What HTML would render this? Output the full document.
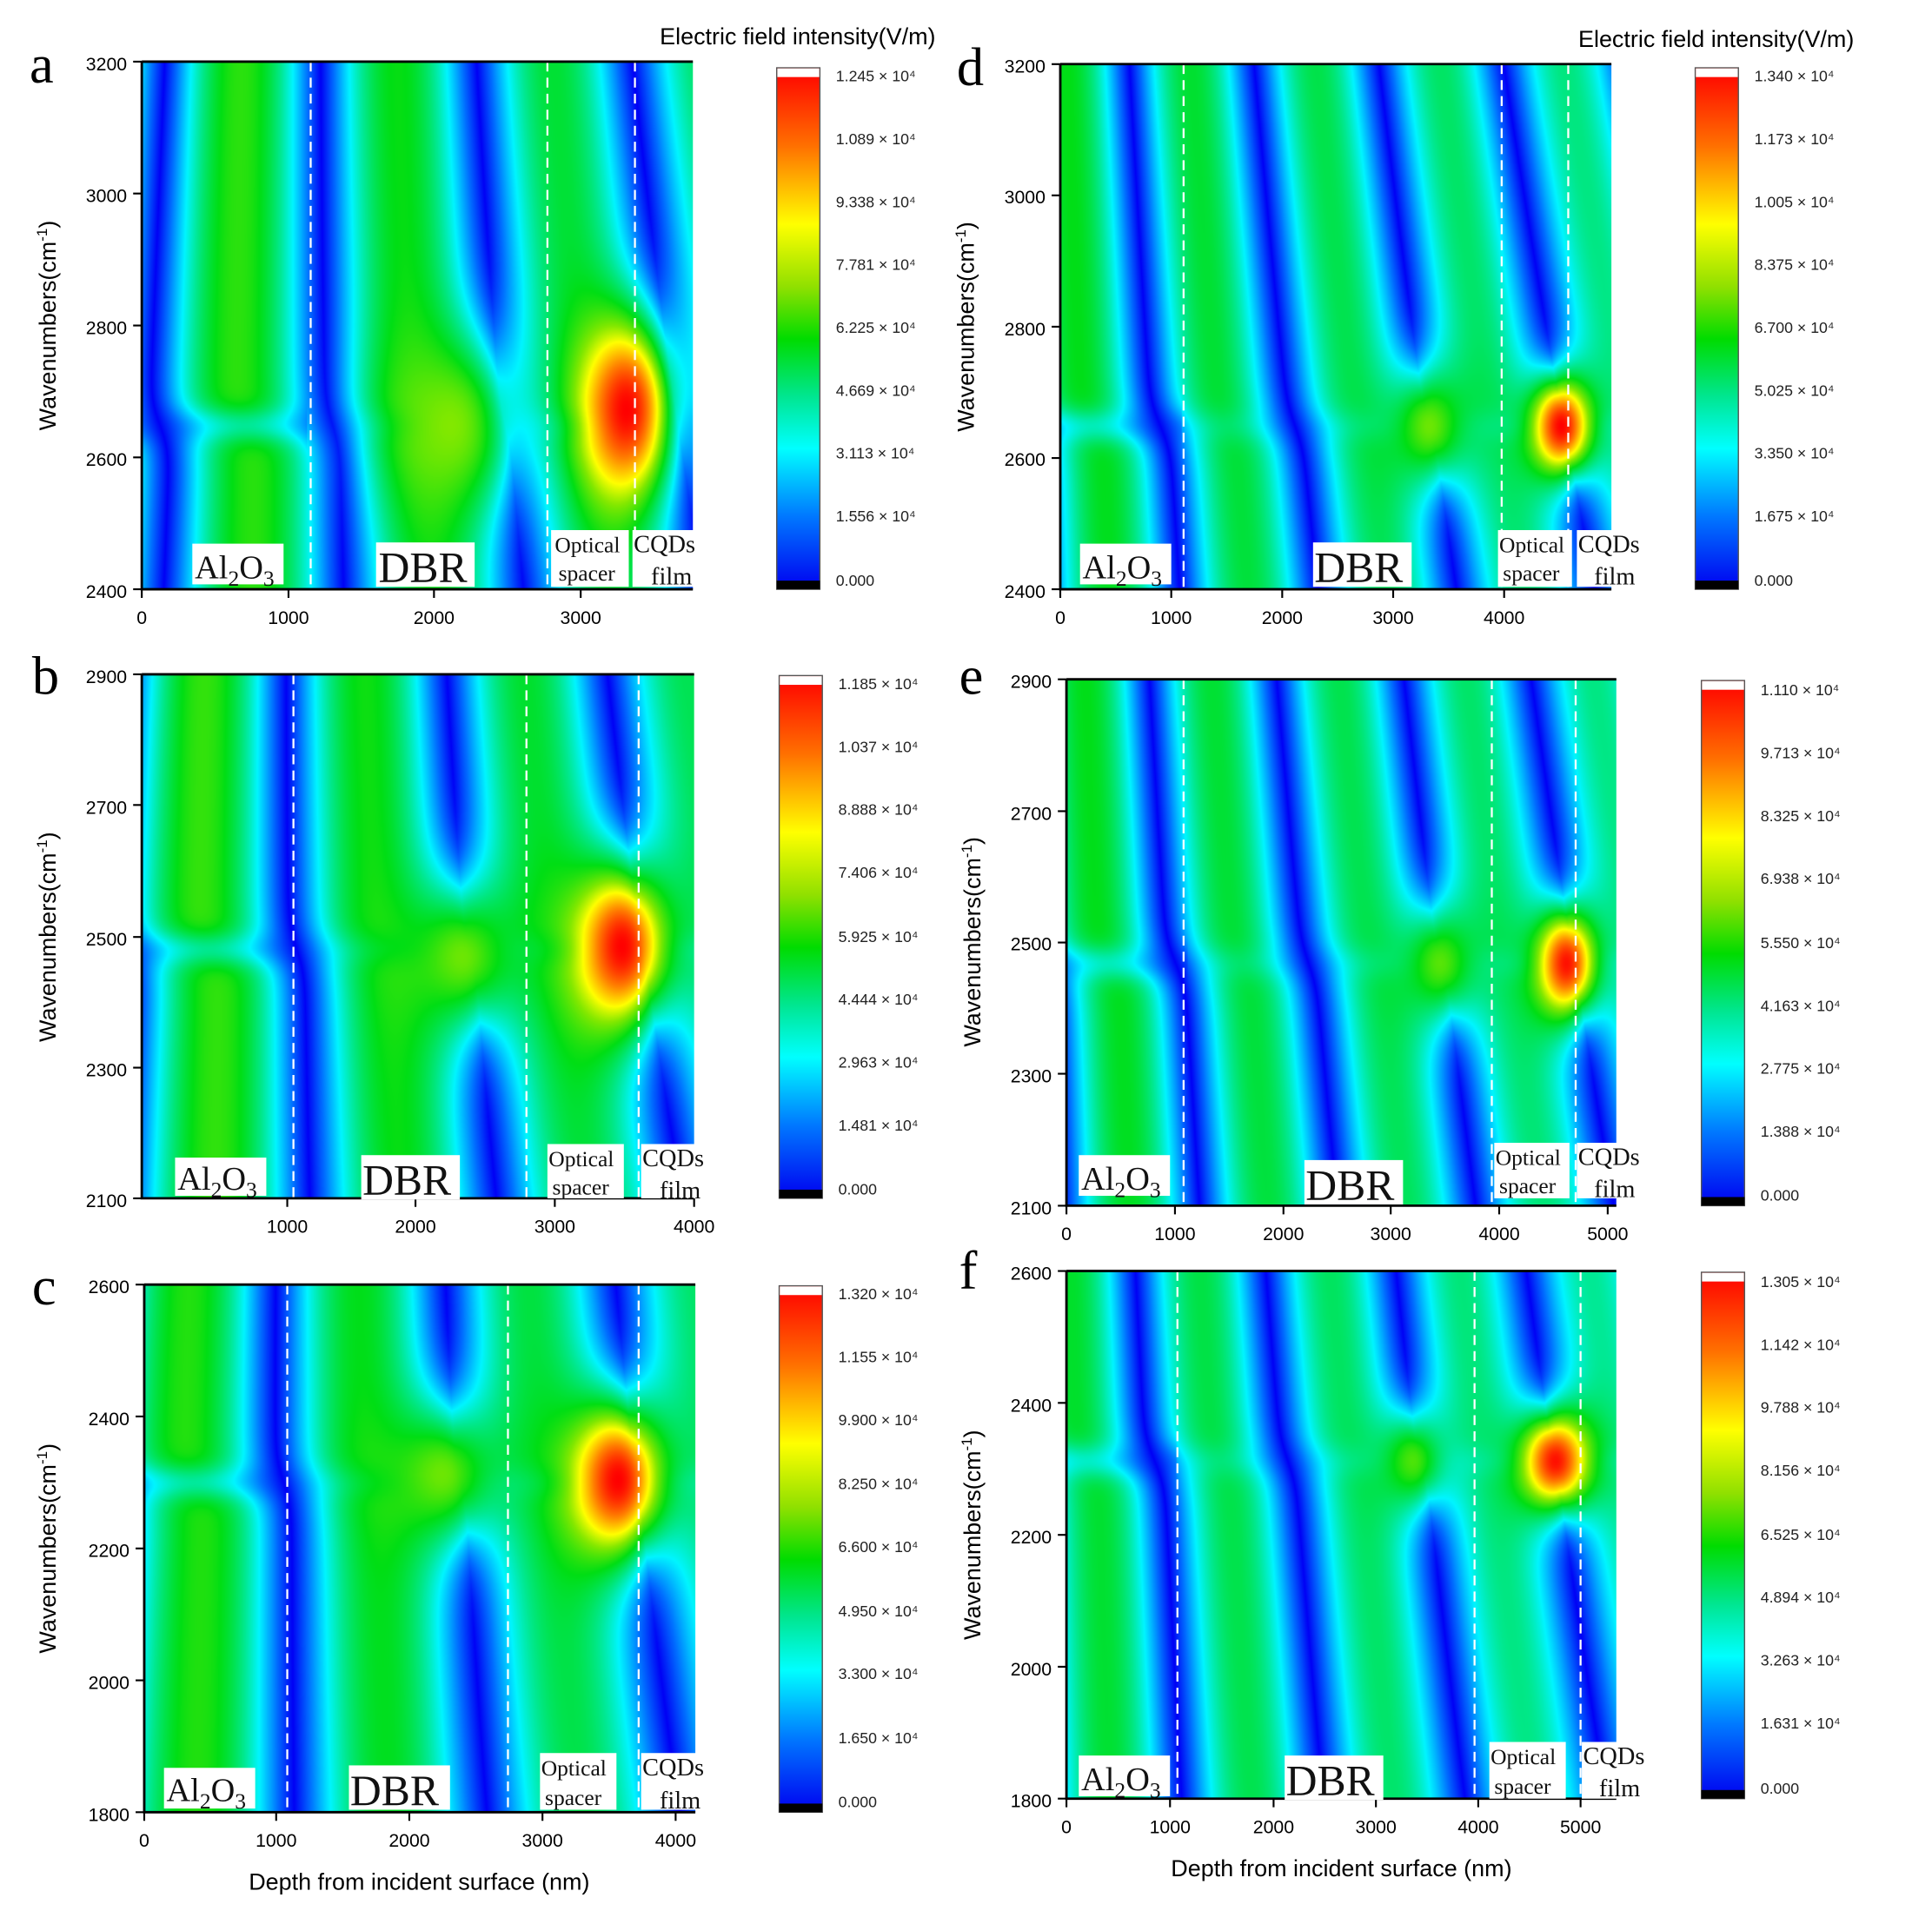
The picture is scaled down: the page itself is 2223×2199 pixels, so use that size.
<!DOCTYPE html>
<html><head><meta charset="utf-8"><style>
html,body{margin:0;padding:0;background:#fff;width:2223px;height:2199px;overflow:hidden}
#w{position:absolute;left:0;top:0;width:1567px;height:1550px;transform:scale(1.4186);transform-origin:0 0}
canvas{position:absolute}
svg{position:absolute;left:0;top:0}
.t{font-family:"Liberation Sans",sans-serif;font-size:15px;fill:#000}
.cb{font-family:"Liberation Sans",sans-serif;font-size:12.5px;fill:#222}
.yl{font-family:"Liberation Sans",sans-serif;font-size:19px;fill:#000}
.lt{font-family:"Liberation Serif",serif;font-size:44px;fill:#000}
.rg{font-family:"Liberation Serif",serif;fill:#111}
</style></head><body><div id="w">
<canvas id="ca" style="left:115px;top:50px;width:447px;height:428px" width="640" height="616"></canvas>
<canvas id="cd" style="left:860px;top:52px;width:447px;height:426px" width="640" height="614"></canvas>
<canvas id="cb" style="left:115px;top:547px;width:448px;height:425px" width="640" height="612"></canvas>
<canvas id="ce" style="left:865px;top:551px;width:446px;height:427px" width="640" height="614"></canvas>
<canvas id="cc" style="left:117px;top:1042px;width:447px;height:428px" width="640" height="616"></canvas>
<canvas id="cf" style="left:865px;top:1031px;width:446px;height:428px" width="640" height="616"></canvas>
<svg width="1567" height="1550" viewBox="0 0 1567 1550">
<defs><linearGradient id="g" x1="0" y1="0" x2="0" y2="1">
<stop offset="0" stop-color="#ff0000"/><stop offset="0.15" stop-color="#ff7000"/><stop offset="0.3" stop-color="#ffff00"/><stop offset="0.42" stop-color="#90e000"/><stop offset="0.52" stop-color="#00dc00"/><stop offset="0.63" stop-color="#00e690"/><stop offset="0.73" stop-color="#00ffff"/><stop offset="0.86" stop-color="#0078ff"/><stop offset="1" stop-color="#0000f0"/></linearGradient></defs>
<g stroke="#fff" stroke-width="1.6" stroke-dasharray="8,5">
<line x1="252" y1="50" x2="252" y2="478"/><line x1="444" y1="50" x2="444" y2="478"/><line x1="515" y1="50" x2="515" y2="478"/>
<line x1="960" y1="52" x2="960" y2="478"/><line x1="1218" y1="52" x2="1218" y2="478"/><line x1="1272" y1="52" x2="1272" y2="478"/>
<line x1="238" y1="547" x2="238" y2="972"/><line x1="427" y1="547" x2="427" y2="972"/><line x1="518" y1="547" x2="518" y2="972"/>
<line x1="960" y1="551" x2="960" y2="978"/><line x1="1210" y1="551" x2="1210" y2="978"/><line x1="1278" y1="551" x2="1278" y2="978"/>
<line x1="233" y1="1042" x2="233" y2="1470"/><line x1="412" y1="1042" x2="412" y2="1470"/><line x1="518" y1="1042" x2="518" y2="1470"/>
<line x1="955" y1="1031" x2="955" y2="1459"/><line x1="1196" y1="1031" x2="1196" y2="1459"/><line x1="1282" y1="1031" x2="1282" y2="1459"/>
</g>
<g fill="none" stroke="#000" stroke-width="2">
<path d="M115 50H562M115 50V478H562"/><path d="M860 52H1307M860 52V478H1307"/>
<path d="M115 547H563M115 547V972H563"/><path d="M865 551H1311M865 551V978H1311"/>
<path d="M117 1042H564M117 1042V1470H564"/><path d="M865 1031H1311M865 1031V1459H1311"/>
</g>
<g stroke="#000" stroke-width="1.5">
<path d="M108 50h7M108 157h7M108 264h7M108 371h7M108 478h7M115 478v7M234 478v7M352 478v7M471 478v7"/>
<path d="M853 52h7M853 158.5h7M853 265h7M853 371.5h7M853 478h7M860 478v7M950 478v7M1040 478v7M1130 478v7M1220 478v7"/>
<path d="M108 547h7M108 653h7M108 760h7M108 866h7M108 972h7M233 972v7M337 972v7M450 972v7M563 972v7"/>
<path d="M858 551h7M858 658h7M858 764.5h7M858 871h7M858 978h7M865 978v7M953 978v7M1041 978v7M1128 978v7M1216 978v7M1304 978v7"/>
<path d="M110 1042h7M110 1149h7M110 1256h7M110 1363h7M110 1470h7M117 1470v7M224 1470v7M332 1470v7M440 1470v7M548 1470v7"/>
<path d="M858 1031h7M858 1138h7M858 1245h7M858 1352h7M858 1459h7M865 1459v7M949 1459v7M1033 1459v7M1116 1459v7M1199 1459v7M1282 1459v7"/>
</g>
<g class="t" text-anchor="end">
<text x="103" y="57">3200</text><text x="103" y="164">3000</text><text x="103" y="271">2800</text><text x="103" y="378">2600</text><text x="103" y="485">2400</text>
<text x="848" y="59">3200</text><text x="848" y="165">3000</text><text x="848" y="272">2800</text><text x="848" y="378">2600</text><text x="848" y="485">2400</text>
<text x="103" y="554">2900</text><text x="103" y="660">2700</text><text x="103" y="767">2500</text><text x="103" y="873">2300</text><text x="103" y="979">2100</text>
<text x="853" y="558">2900</text><text x="853" y="665">2700</text><text x="853" y="771">2500</text><text x="853" y="878">2300</text><text x="853" y="985">2100</text>
<text x="105" y="1049">2600</text><text x="105" y="1156">2400</text><text x="105" y="1263">2200</text><text x="105" y="1370">2000</text><text x="105" y="1477">1800</text>
<text x="853" y="1038">2600</text><text x="853" y="1145">2400</text><text x="853" y="1252">2200</text><text x="853" y="1359">2000</text><text x="853" y="1466">1800</text>
</g>
<g class="t" text-anchor="middle">
<text x="115" y="506">0</text><text x="234" y="506">1000</text><text x="352" y="506">2000</text><text x="471" y="506">3000</text>
<text x="860" y="506">0</text><text x="950" y="506">1000</text><text x="1040" y="506">2000</text><text x="1130" y="506">3000</text><text x="1220" y="506">4000</text>
<text x="233" y="1000">1000</text><text x="337" y="1000">2000</text><text x="450" y="1000">3000</text><text x="563" y="1000">4000</text>
<text x="865" y="1006">0</text><text x="953" y="1006">1000</text><text x="1041" y="1006">2000</text><text x="1128" y="1006">3000</text><text x="1216" y="1006">4000</text><text x="1304" y="1006">5000</text>
<text x="117" y="1498">0</text><text x="224" y="1498">1000</text><text x="332" y="1498">2000</text><text x="440" y="1498">3000</text><text x="548" y="1498">4000</text>
<text x="865" y="1487">0</text><text x="949" y="1487">1000</text><text x="1033" y="1487">2000</text><text x="1116" y="1487">3000</text><text x="1199" y="1487">4000</text><text x="1282" y="1487">5000</text>
</g>
<g class="yl" text-anchor="middle">
<text transform="translate(45,264) rotate(-90)">Wavenumbers(cm<tspan font-size="12" dy="-7">-1</tspan><tspan dy="7">)</tspan></text>
<text transform="translate(790,265) rotate(-90)">Wavenumbers(cm<tspan font-size="12" dy="-7">-1</tspan><tspan dy="7">)</tspan></text>
<text transform="translate(45,760) rotate(-90)">Wavenumbers(cm<tspan font-size="12" dy="-7">-1</tspan><tspan dy="7">)</tspan></text>
<text transform="translate(795,764) rotate(-90)">Wavenumbers(cm<tspan font-size="12" dy="-7">-1</tspan><tspan dy="7">)</tspan></text>
<text transform="translate(45,1256) rotate(-90)">Wavenumbers(cm<tspan font-size="12" dy="-7">-1</tspan><tspan dy="7">)</tspan></text>
<text transform="translate(795,1245) rotate(-90)">Wavenumbers(cm<tspan font-size="12" dy="-7">-1</tspan><tspan dy="7">)</tspan></text>
<text x="340" y="1533">Depth from incident surface (nm)</text>
<text x="1088" y="1522">Depth from incident surface (nm)</text>
<text x="647" y="36">Electric field intensity(V/m)</text>
<text x="1392" y="38">Electric field intensity(V/m)</text>
</g>
<g class="lt"><text x="24" y="67">a</text><text x="776" y="69">d</text><text x="26" y="563">b</text><text x="778" y="563">e</text><text x="26" y="1058">c</text><text x="778" y="1045">f</text></g>
<g stroke="#555" stroke-width="1">
<rect x="630" y="55" width="35" height="423" fill="url(#g)"/><rect x="1375" y="55" width="35" height="423" fill="url(#g)"/>
<rect x="632" y="548" width="35" height="424" fill="url(#g)"/><rect x="1380" y="552" width="35" height="426" fill="url(#g)"/>
<rect x="632" y="1043" width="35" height="427" fill="url(#g)"/><rect x="1380" y="1032" width="35" height="427" fill="url(#g)"/>
</g>
<g fill="#fff"><rect x="630.5" y="55.5" width="34" height="7"/><rect x="1375.5" y="55.5" width="34" height="7"/><rect x="632.5" y="548.5" width="34" height="7"/><rect x="1380.5" y="552.5" width="34" height="7"/><rect x="632.5" y="1043.5" width="34" height="7"/><rect x="1380.5" y="1032.5" width="34" height="7"/></g>
<g fill="#000"><rect x="630" y="471" width="35" height="7"/><rect x="1375" y="471" width="35" height="7"/><rect x="632" y="965" width="35" height="7"/><rect x="1380" y="971" width="35" height="7"/><rect x="632" y="1463" width="35" height="7"/><rect x="1380" y="1452" width="35" height="7"/></g>
<g class="cb">
<text x="678" y="66">1.245 × 10⁴</text><text x="678" y="117">1.089 × 10⁴</text><text x="678" y="168">9.338 × 10⁴</text><text x="678" y="219">7.781 × 10⁴</text><text x="678" y="270">6.225 × 10⁴</text><text x="678" y="321">4.669 × 10⁴</text><text x="678" y="372">3.113 × 10⁴</text><text x="678" y="423">1.556 × 10⁴</text><text x="678" y="475">0.000</text>
<text x="1423" y="66">1.340 × 10⁴</text><text x="1423" y="117">1.173 × 10⁴</text><text x="1423" y="168">1.005 × 10⁴</text><text x="1423" y="219">8.375 × 10⁴</text><text x="1423" y="270">6.700 × 10⁴</text><text x="1423" y="321">5.025 × 10⁴</text><text x="1423" y="372">3.350 × 10⁴</text><text x="1423" y="423">1.675 × 10⁴</text><text x="1423" y="475">0.000</text>
<text x="680" y="559">1.185 × 10⁴</text><text x="680" y="610">1.037 × 10⁴</text><text x="680" y="661">8.888 × 10⁴</text><text x="680" y="712">7.406 × 10⁴</text><text x="680" y="764">5.925 × 10⁴</text><text x="680" y="815">4.444 × 10⁴</text><text x="680" y="866">2.963 × 10⁴</text><text x="680" y="917">1.481 × 10⁴</text><text x="680" y="969">0.000</text>
<text x="1428" y="564">1.110 × 10⁴</text><text x="1428" y="615">9.713 × 10⁴</text><text x="1428" y="666">8.325 × 10⁴</text><text x="1428" y="717">6.938 × 10⁴</text><text x="1428" y="769">5.550 × 10⁴</text><text x="1428" y="820">4.163 × 10⁴</text><text x="1428" y="871">2.775 × 10⁴</text><text x="1428" y="922">1.388 × 10⁴</text><text x="1428" y="974">0.000</text>
<text x="680" y="1054">1.320   × 10⁴</text><text x="680" y="1105">1.155   × 10⁴</text><text x="680" y="1156">9.900   × 10⁴</text><text x="680" y="1208">8.250   × 10⁴</text><text x="680" y="1259">6.600   × 10⁴</text><text x="680" y="1311">4.950   × 10⁴</text><text x="680" y="1362">3.300   × 10⁴</text><text x="680" y="1414">1.650   × 10⁴</text><text x="680" y="1466">0.000</text>
<text x="1428" y="1044">1.305 × 10⁴</text><text x="1428" y="1095">1.142 × 10⁴</text><text x="1428" y="1146">9.788 × 10⁴</text><text x="1428" y="1197">8.156 × 10⁴</text><text x="1428" y="1249">6.525 × 10⁴</text><text x="1428" y="1300">4.894 × 10⁴</text><text x="1428" y="1351">3.263 × 10⁴</text><text x="1428" y="1402">1.631 × 10⁴</text><text x="1428" y="1455">0.000</text>
</g>
<g fill="#fff">
<rect x="156" y="441" width="74" height="33"/><rect x="305" y="440" width="80" height="36"/><rect x="447" y="430" width="63" height="46"/><rect x="513" y="430" width="55" height="46"/>
<rect x="876" y="441" width="74" height="33"/><rect x="1065" y="440" width="80" height="36"/><rect x="1215" y="430" width="60" height="46"/><rect x="1279" y="430" width="56" height="46"/>
<rect x="142" y="939" width="74" height="31"/><rect x="293" y="937" width="80" height="36"/><rect x="444" y="928" width="62" height="44"/><rect x="520" y="928" width="58" height="44"/>
<rect x="875" y="937" width="74" height="33"/><rect x="1058" y="941" width="80" height="36"/><rect x="1212" y="927" width="61" height="45"/><rect x="1279" y="927" width="56" height="45"/>
<rect x="133" y="1434" width="74" height="33"/><rect x="283" y="1432" width="82" height="36"/><rect x="438" y="1422" width="62" height="46"/><rect x="520" y="1422" width="60" height="46"/>
<rect x="875" y="1424" width="74" height="33"/><rect x="1042" y="1424" width="80" height="36"/><rect x="1208" y="1413" width="62" height="46"/><rect x="1283" y="1413" width="57" height="46"/>
</g>
<g class="rg">
<text x="158" y="469" font-size="27">Al<tspan font-size="18" dy="6">2</tspan><tspan dy="-6">O</tspan><tspan font-size="18" dy="6">3</tspan></text><text x="307" y="472" font-size="35">DBR</text><text x="450" y="448" font-size="18">Optical</text><text x="453" y="471" font-size="18">spacer</text><text x="514" y="448" font-size="20">CQDs</text><text x="528" y="474" font-size="20">film</text>
<text x="878" y="469" font-size="27">Al<tspan font-size="18" dy="6">2</tspan><tspan dy="-6">O</tspan><tspan font-size="18" dy="6">3</tspan></text><text x="1066" y="472" font-size="35">DBR</text><text x="1216" y="448" font-size="18">Optical</text><text x="1219" y="471" font-size="18">spacer</text><text x="1280" y="448" font-size="20">CQDs</text><text x="1293" y="474" font-size="20">film</text>
<text x="144" y="965" font-size="27">Al<tspan font-size="18" dy="6">2</tspan><tspan dy="-6">O</tspan><tspan font-size="18" dy="6">3</tspan></text><text x="294" y="969" font-size="35">DBR</text><text x="445" y="946" font-size="18">Optical</text><text x="448" y="969" font-size="18">spacer</text><text x="521" y="946" font-size="20">CQDs</text><text x="535" y="972" font-size="20">film</text>
<text x="877" y="965" font-size="27">Al<tspan font-size="18" dy="6">2</tspan><tspan dy="-6">O</tspan><tspan font-size="18" dy="6">3</tspan></text><text x="1059" y="973" font-size="35">DBR</text><text x="1213" y="945" font-size="18">Optical</text><text x="1216" y="968" font-size="18">spacer</text><text x="1280" y="945" font-size="20">CQDs</text><text x="1293" y="971" font-size="20">film</text>
<text x="135" y="1461" font-size="27">Al<tspan font-size="18" dy="6">2</tspan><tspan dy="-6">O</tspan><tspan font-size="18" dy="6">3</tspan></text><text x="284" y="1464" font-size="35">DBR</text><text x="439" y="1440" font-size="18">Optical</text><text x="442" y="1464" font-size="18">spacer</text><text x="521" y="1440" font-size="20">CQDs</text><text x="535" y="1467" font-size="20">film</text>
<text x="877" y="1452" font-size="27">Al<tspan font-size="18" dy="6">2</tspan><tspan dy="-6">O</tspan><tspan font-size="18" dy="6">3</tspan></text><text x="1043" y="1456" font-size="35">DBR</text><text x="1209" y="1431" font-size="18">Optical</text><text x="1212" y="1455" font-size="18">spacer</text><text x="1284" y="1431" font-size="20">CQDs</text><text x="1297" y="1457" font-size="20">film</text>
</g>
</svg></div>
<script>
var S=[[0,0,0,245],[0.13,0,110,255],[0.27,0,245,255],[0.37,0,232,140],[0.48,0,222,20],[0.6,130,232,0],[0.7,255,255,0],[0.84,255,130,0],[1,255,0,0]];
function cm(t){if(t<0)t=0;if(t>1)t=1;for(var i=1;i<S.length;i++){if(t<=S[i][0]){var a=S[i-1],b=S[i],f=(t-a[0])/(b[0]-a[0]);return[a[1]+(b[1]-a[1])*f,a[2]+(b[2]-a[2])*f,a[3]+(b[3]-a[3])*f];}}return[255,0,0];}
var P=[
{id:'ca',n0:3,n1:3.6,u0:0.02,u1:0.06,vr:0.31,amp:0.54,d1:0.3,h:[[0.88,0.34,0.085,0.17,1.0],[0.56,0.31,0.12,0.17,0.6]]},
{id:'cb',n0:2.9,n1:3.5,u0:-0.055,u1:-0.01,vr:0.475,amp:0.54,d1:0.28,h:[[0.87,0.48,0.09,0.16,1.0],[0.58,0.46,0.12,0.15,0.58]]},
{id:'cc',n0:2.8,n1:3.3,u0:-0.1,u1:-0.05,vr:0.625,amp:0.52,d1:0.26,h:[[0.86,0.63,0.09,0.15,1.0],[0.54,0.64,0.12,0.14,0.58]]},
{id:'cd',n0:3.9,n1:4.5,u0:-0.056,u1:-0.08,vr:0.31,amp:0.48,d1:0.22,h:[[0.91,0.31,0.06,0.1,1.0],[0.67,0.31,0.08,0.12,0.58]]},
{id:'ce',n0:3.9,n1:4.4,u0:-0.03,u1:-0.06,vr:0.46,amp:0.48,d1:0.22,h:[[0.91,0.46,0.06,0.11,0.98],[0.68,0.46,0.08,0.12,0.56]]},
{id:'cf',n0:3.8,n1:4.3,u0:-0.07,u1:-0.09,vr:0.64,amp:0.46,d1:0.2,h:[[0.89,0.64,0.07,0.1,0.98],[0.63,0.64,0.07,0.1,0.55]]}];
P.forEach(function(p){var c=document.getElementById(p.id),x=c.getContext('2d'),W=c.width,H=c.height,im=x.createImageData(W,H),d=im.data;
for(var j=0;j<H;j++){var v=1-j/(H-1);var n=p.n0+(p.n1-p.n0)*v,u0=p.u0+(p.u1-p.u0)*v;
for(var i=0;i<W;i++){var u=i/(W-1);
var sh=0.02*Math.tanh((v-p.vr)/0.05)*(1-u);
var s=Math.abs(Math.sin(Math.PI*(u-u0+sh)*n));var I=p.amp*(1-0.22*u)*s;
var rd=Math.exp(-Math.pow((v-p.vr)/0.035,2))*(u<p.d1?1:0.35);I*=1-0.3*rd;
for(var k=0;k<p.h.length;k++){var h=p.h[k];var w=Math.exp(-Math.pow((u-h[0])/h[2],2)-Math.pow((v-h[1])/h[3],2));I=I*(1-w)+h[4]*w;}
var col=cm(I),o=(j*W+i)*4;d[o]=col[0];d[o+1]=col[1];d[o+2]=col[2];d[o+3]=255;}}
x.putImageData(im,0,0);});
</script>
</body></html>
